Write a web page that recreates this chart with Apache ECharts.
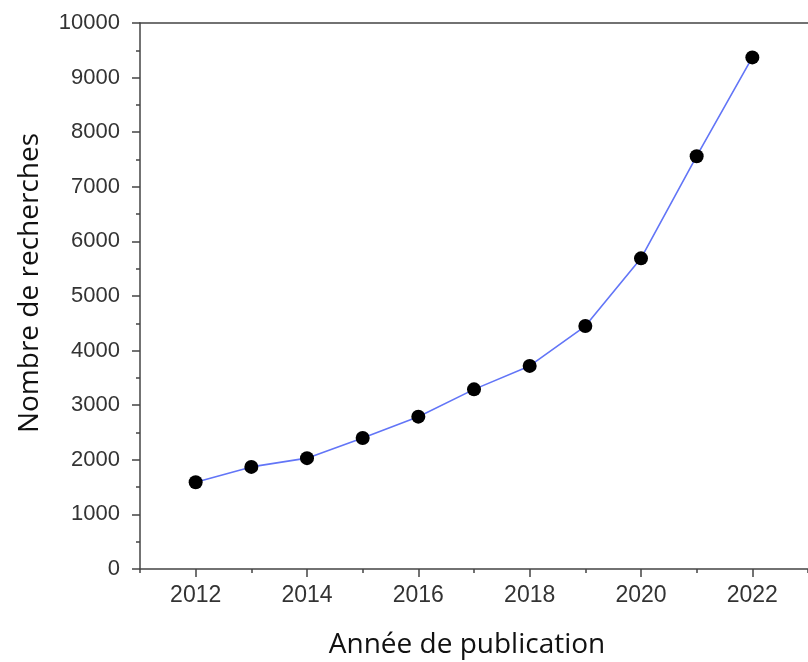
<!DOCTYPE html>
<html>
<head>
<meta charset="utf-8">
<script src="https://cdn.jsdelivr.net/npm/echarts@6/dist/echarts.min.js"></script>
<style>
  html, body { margin: 0; padding: 0; background: #fff; }
  #chart { width: 808px; height: 662px; }
</style>
</head>
<body>
<div id="chart"></div>
<script>
// Publication years on the axis (the axis runs from 2011 to 2023)
const axisYears = ['2011','2012','2013','2014','2015','2016','2017','2018','2019','2020','2021','2022','2023'];
// Years with a measured count
const years = ['2012','2013','2014','2015','2016','2017','2018','2019','2020','2021','2022'];
// Number of searches per year
const searches = [1590, 1870, 2030, 2400, 2790, 3290, 3720, 4450, 5690, 7560, 9370];

const axisColor = '#444';
const tickFont = 'Liberation Sans, Arial, sans-serif';
const titleFont = '"Open Sans", "Noto Sans", sans-serif';
const isEven = (i) => Number(axisYears[i]) % 2 === 0;

const chart = echarts.init(document.getElementById('chart'), null, { renderer: 'canvas' });

chart.setOption({
  backgroundColor: '#fff',
  animation: false,
  grid: { left: 140, top: 23, width: 677, height: 546, containLabel: false },
  xAxis: [
    {
      // main bottom axis: long ticks and labels on even years
      type: 'category',
      data: axisYears,
      boundaryGap: false,
      position: 'bottom',
      axisLine: { show: true, lineStyle: { color: axisColor, width: 1.5 } },
      axisTick: { show: true, length: 8, interval: (i) => isEven(i), lineStyle: { color: axisColor, width: 1.5 } },
      axisLabel: {
        interval: (i) => isEven(i),
        margin: 15,
        color: '#333',
        fontFamily: tickFont,
        fontSize: 23
      },
      splitLine: { show: false }
    },
    {
      // short ticks on every year
      type: 'category',
      data: axisYears,
      boundaryGap: false,
      position: 'bottom',
      axisLine: { show: false },
      axisTick: { show: true, length: 4, interval: 0, lineStyle: { color: axisColor, width: 1.5 } },
      axisLabel: { show: false },
      splitLine: { show: false }
    },
    {
      // top frame line
      type: 'category',
      data: axisYears,
      boundaryGap: false,
      position: 'top',
      axisLine: { show: true, lineStyle: { color: axisColor, width: 1.5 } },
      axisTick: { show: false },
      axisLabel: { show: false },
      splitLine: { show: false }
    }
  ],
  yAxis: {
    type: 'value',
    min: 0,
    max: 10000,
    interval: 1000,
    axisLine: { show: true, lineStyle: { color: axisColor, width: 1.5 } },
    axisTick: { show: true, length: 8, lineStyle: { color: axisColor, width: 1.5 } },
    minorTick: { show: true, splitNumber: 2, length: 4, lineStyle: { color: axisColor, width: 1.5 } },
    axisLabel: {
      margin: 20,
      color: '#333',
      fontFamily: tickFont,
      fontSize: 22,
      formatter: (v) => String(v)
    },
    splitLine: { show: false }
  },
  series: [
    {
      type: 'line',
      xAxisIndex: 0,
      data: years.map((y, i) => [y, searches[i]]),
      symbol: 'circle',
      symbolSize: 14,
      itemStyle: { color: '#000' },
      lineStyle: { color: '#6275f7', width: 1.6 },
      clip: false,
      z: 3
    }
  ],
  graphic: [
    {
      type: 'text',
      x: 467,
      y: 645,
      style: {
        text: 'Année de publication',
        font: '28px ' + titleFont,
        fill: '#111',
        textAlign: 'center',
        textVerticalAlign: 'middle'
      }
    },
    {
      type: 'text',
      x: 30,
      y: 283,
      rotation: Math.PI / 2,
      style: {
        text: 'Nombre de recherches',
        font: '28px ' + titleFont,
        fill: '#111',
        textAlign: 'center',
        textVerticalAlign: 'middle'
      }
    }
  ]
});
</script>
</body>
</html>
